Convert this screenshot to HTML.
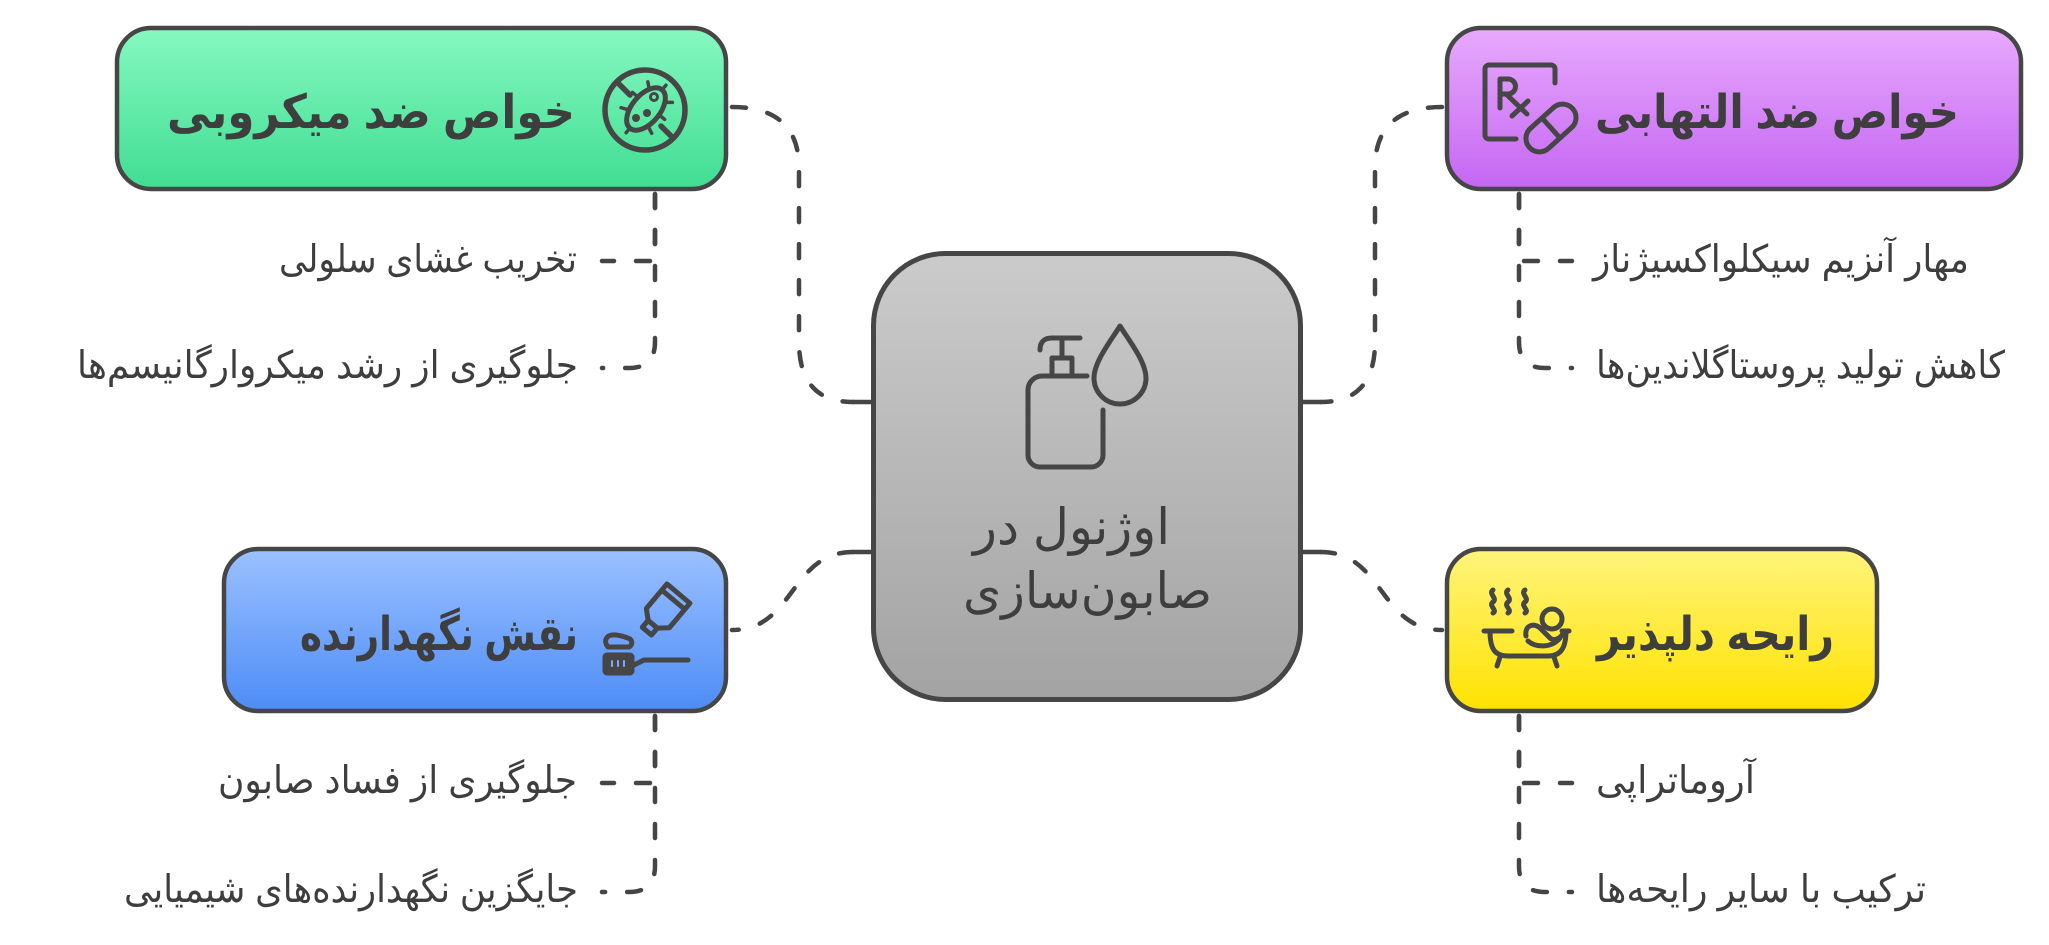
<!DOCTYPE html>
<html>
<head>
<meta charset="utf-8">
<style>
  html,body{margin:0;padding:0;background:#fff;}
  svg{display:block;}
  text{font-family:"Liberation Sans","DejaVu Sans",sans-serif;fill:#3e3e3e;}
</style>
</head>
<body>
<svg width="2049" height="945" viewBox="0 0 2049 945" xmlns="http://www.w3.org/2000/svg">
  <defs>
    <linearGradient id="gGreen" x1="0" y1="0" x2="0" y2="1">
      <stop offset="0" stop-color="#86f8c1"/>
      <stop offset="1" stop-color="#40dd92"/>
    </linearGradient>
    <linearGradient id="gPurple" x1="0" y1="0" x2="0" y2="1">
      <stop offset="0" stop-color="#e8aafd"/>
      <stop offset="1" stop-color="#c466f2"/>
    </linearGradient>
    <linearGradient id="gBlue" x1="0" y1="0" x2="0" y2="1">
      <stop offset="0" stop-color="#9bc1ff"/>
      <stop offset="1" stop-color="#4d8cf6"/>
    </linearGradient>
    <linearGradient id="gYellow" x1="0" y1="0" x2="0" y2="1">
      <stop offset="0" stop-color="#fff47c"/>
      <stop offset="1" stop-color="#ffe200"/>
    </linearGradient>
    <linearGradient id="gGray" x1="0" y1="0" x2="0" y2="1">
      <stop offset="0" stop-color="#cbcbcb"/>
      <stop offset="1" stop-color="#a3a3a3"/>
    </linearGradient>
  </defs>

  <rect width="2049" height="945" fill="#ffffff"/>

  <!-- dashed connectors -->
  <g fill="none" stroke="#454545" stroke-width="4.5" stroke-dasharray="14 22" stroke-linecap="round">
    <path d="M732,107 Q799,107 799,168 L799,342 Q799,402 853,402"/>
    <path d="M1442,107 Q1375,107 1375,168 L1375,342 Q1375,402 1321,402"/>
    <path d="M853,552 C790,552 795,630 732,630"/>
    <path d="M1321,552 C1384,552 1379,630 1442,630"/>
    <path d="M655,194 V261 H602"/>
    <path d="M655,194 V342 Q655,368 629,368 H602"/>
    <path d="M1519,194 V261 H1572"/>
    <path d="M1519,194 V342 Q1519,368 1545,368 H1572"/>
    <path d="M655,716 V783 H602"/>
    <path d="M655,716 V866 Q655,892 629,892 H602"/>
    <path d="M1519,716 V783 H1572"/>
    <path d="M1519,716 V866 Q1519,892 1545,892 H1572"/>
  </g>

  <g stroke="#454545" stroke-width="4.5" stroke-linecap="round">
    <line x1="853" y1="402" x2="873" y2="402"/>
    <line x1="853" y1="552" x2="873" y2="552"/>
    <line x1="1301" y1="402" x2="1321" y2="402"/>
    <line x1="1301" y1="552" x2="1321" y2="552"/>
  </g>

  <!-- boxes -->
  <g stroke="#464646" stroke-width="4.5">
    <rect x="117" y="28" width="609" height="161" rx="34" fill="url(#gGreen)"/>
    <rect x="1447" y="28" width="574" height="161" rx="34" fill="url(#gPurple)"/>
    <rect x="224" y="549" width="502" height="162" rx="34" fill="url(#gBlue)"/>
    <rect x="1447" y="549" width="430" height="162" rx="34" fill="url(#gYellow)"/>
    <rect x="873.5" y="253.5" width="427" height="446" rx="72" fill="url(#gGray)" stroke-width="5"/>
  </g>

  <!-- virus icon -->
  <g stroke="#464646" fill="none" stroke-linecap="round" stroke-linejoin="round">
    <circle cx="645" cy="110" r="40" stroke-width="5.5"/>
    <line x1="618" y1="83" x2="630" y2="95" stroke-width="5.5"/>
    <line x1="661" y1="126" x2="673" y2="138" stroke-width="5.5"/>
    <g transform="translate(646,109) rotate(-50)">
      <ellipse cx="0" cy="0" rx="25" ry="14" stroke-width="5"/>
      <g stroke-width="3.5">
        <line x1="-12" y1="-13" x2="-15" y2="-20"/>
        <line x1="4" y1="-14" x2="4" y2="-21"/>
        <line x1="17" y1="-10" x2="22" y2="-16"/>
        <line x1="-12" y1="13" x2="-15" y2="20"/>
        <line x1="4" y1="14" x2="4" y2="21"/>
        <line x1="17" y1="10" x2="22" y2="16"/>
        <line x1="-25" y1="0" x2="-31" y2="0"/>
        <line x1="25" y1="0" x2="31" y2="0"/>
      </g>
    </g>
    <circle cx="636" cy="118" r="4" fill="#464646" stroke="none"/>
    <circle cx="647" cy="113" r="4" fill="#464646" stroke="none"/>
    <circle cx="654" cy="97" r="3.5" stroke-width="3"/>
  </g>

  <!-- Rx icon -->
  <g stroke="#464646" stroke-width="5" fill="none" stroke-linecap="round" stroke-linejoin="round">
    <path d="M1516,139 H1489 a4,4 0 0 1 -4,-4 V69 a4,4 0 0 1 4,-4 H1551 a4,4 0 0 1 4,4 V83"/>
    <path d="M1500,108 V79 H1508 a7.5,7.5 0 0 1 0,15 H1500 M1506,94 L1527,114 M1512,116 L1528,101"/>
    <g transform="translate(1551,128) rotate(-42)">
      <rect x="-29" y="-13.5" width="58" height="27" rx="13.5"/>
      <line x1="0" y1="-13" x2="0" y2="13"/>
    </g>
  </g>

  <!-- toothpaste icon -->
  <g transform="translate(590,575)" stroke="#464646" stroke-width="5" fill="none" stroke-linejoin="round" stroke-linecap="round">
    <g transform="translate(73,37) rotate(40)">
      <path d="M-15,-24 H15 V8 L6,16 H-6 L-15,8 Z"/>
      <line x1="-15" y1="-16" x2="15" y2="-16"/>
      <rect x="-6" y="16" width="12" height="9"/>
    </g>
    <path d="M18,72 C13,66 16,59 26,60 C33,61 36,62 40,64 C43,66 42,72 38,72 Z"/>
    <rect x="15" y="80" width="27" height="18" rx="2" fill="#464646"/>
    <path d="M22,86 v5 M28,86 v5 M34,86 v5" stroke="#7fa9f8" stroke-width="2"/>
    <path d="M42,91 L54,85 H98"/>
  </g>

  <!-- bathtub icon -->
  <g transform="translate(1470,578)" stroke="#464646" stroke-width="5" fill="none" stroke-linejoin="round" stroke-linecap="round">
    <path d="M23,12 c-5,4 5,8 0,12 c-5,4 5,8 0,11"/>
    <path d="M38,12 c-5,4 5,8 0,12 c-5,4 5,8 0,11"/>
    <path d="M55,12 c-5,4 5,8 0,12 c-5,4 5,8 0,11"/>
    <path d="M14,53 H42"/>
    <path d="M20,53 C20,70 24,78 38,78 H78 C92,78 96,68 96,53"/>
    <path d="M92,53 H99"/>
    <path d="M30,79 L27,88 M84,79 L87,88"/>
    <circle cx="82" cy="41" r="10"/>
    <path d="M56,58 C54,46 66,44 72,52 L80,60 C84,64 92,60 94,53"/>
    <path d="M58,63 C66,70 82,70 90,60"/>
  </g>

  <!-- soap icon -->
  <g stroke="#464646" stroke-width="5" fill="none" stroke-linejoin="round" stroke-linecap="round">
    <path d="M1103,410 V455 a12,12 0 0 1 -12,12 H1040 a12,12 0 0 1 -12,-12 V390 a14,14 0 0 1 14,-14 H1087"/>
    <path d="M1052,375 V358 H1072 V375"/>
    <path d="M1062,358 V338"/>
    <path d="M1040,350 Q1040,338 1052,338 H1080"/>
    <path d="M1120,326 C1110,342 1094,362 1094,378 a26,26 0 0 0 52,0 C1146,362 1130,342 1120,326 Z"/>
  </g>

  <!-- titles -->
  <g font-size="47" font-weight="bold">
    <text x="167" y="128" textLength="408" lengthAdjust="spacingAndGlyphs">خواص ضد میکروبی</text>
    <text x="1595" y="128" textLength="364" lengthAdjust="spacingAndGlyphs">خواص ضد التهابی</text>
    <text x="300" y="650" textLength="278" lengthAdjust="spacingAndGlyphs">نقش نگهدارنده</text>
    <text x="1597" y="650" textLength="237" lengthAdjust="spacingAndGlyphs">رایحه دلپذیر</text>
  </g>

  <!-- center text -->
  <g font-size="50">
    <text x="973" y="544" textLength="197" lengthAdjust="spacingAndGlyphs">اوژنول در</text>
    <text x="963" y="608" textLength="249" lengthAdjust="spacingAndGlyphs">صابون‌سازی</text>
  </g>

  <!-- sub items -->
  <g font-size="38">
    <text x="279" y="272" textLength="298" lengthAdjust="spacingAndGlyphs">تخریب غشای سلولی</text>
    <text x="77" y="378" textLength="501" lengthAdjust="spacingAndGlyphs">جلوگیری از رشد میکروارگانیسم‌ها</text>
    <text x="1593" y="272" textLength="376" lengthAdjust="spacingAndGlyphs">مهار آنزیم سیکلواکسیژناز</text>
    <text x="1596" y="378" textLength="409" lengthAdjust="spacingAndGlyphs">کاهش تولید پروستاگلاندین‌ها</text>
    <text x="218" y="793" textLength="359" lengthAdjust="spacingAndGlyphs">جلوگیری از فساد صابون</text>
    <text x="124" y="902" textLength="454" lengthAdjust="spacingAndGlyphs">جایگزین نگهدارنده‌های شیمیایی</text>
    <text x="1596" y="793" textLength="159" lengthAdjust="spacingAndGlyphs">آروماتراپی</text>
    <text x="1596" y="902" textLength="330" lengthAdjust="spacingAndGlyphs">ترکیب با سایر رایحه‌ها</text>
  </g>
</svg>
</body>
</html>
